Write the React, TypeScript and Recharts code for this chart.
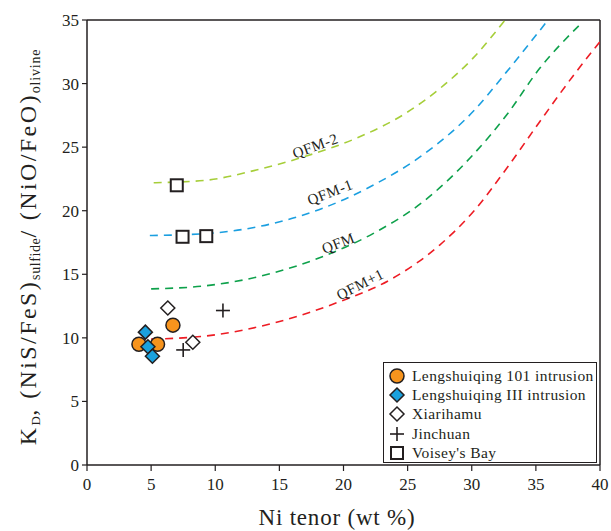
import { ComposedChart, Line, Scatter, XAxis, YAxis, ReferenceLine, ReferenceDot, Legend } from 'recharts';

const FONT = '"Liberation Serif", Tinos, "Times New Roman", Times, serif';
const INK = '#231f20';

// axis ticks
const xTicks = [0, 5, 10, 15, 20, 25, 30, 35, 40];
const yTicks = [0, 5, 10, 15, 20, 25, 30, 35];

// oxygen fugacity curves
const qfmMinus2 = [
  { x: 5.2, y: 22.2 }, { x: 9.3, y: 22.4 }, { x: 13.2, y: 23.2 }, { x: 17.1, y: 24.3 },
  { x: 21.0, y: 25.7 }, { x: 24.9, y: 27.7 }, { x: 27.5, y: 29.6 }, { x: 30.1, y: 32.0 },
  { x: 32.6, y: 35.0 },
];
const qfmMinus1 = [
  { x: 4.9, y: 18.05 }, { x: 9.3, y: 18.2 }, { x: 14.5, y: 19.0 }, { x: 18.4, y: 20.2 },
  { x: 22.3, y: 22.0 }, { x: 26.2, y: 24.4 }, { x: 30.1, y: 27.8 }, { x: 32.7, y: 30.9 },
  { x: 35.95, y: 35.0 },
];
const qfm = [
  { x: 5.0, y: 13.85 }, { x: 9.3, y: 14.1 }, { x: 14.5, y: 15.1 }, { x: 18.4, y: 16.4 },
  { x: 22.3, y: 18.2 }, { x: 26.2, y: 20.7 }, { x: 30.1, y: 24.4 }, { x: 32.7, y: 27.5 },
  { x: 35.3, y: 31.2 }, { x: 38.4, y: 34.6 },
];
const qfmPlus1 = [
  { x: 5.0, y: 9.9 }, { x: 9.3, y: 10.15 }, { x: 14.5, y: 11.15 }, { x: 19.7, y: 12.85 },
  { x: 23.6, y: 14.55 }, { x: 27.5, y: 17.3 }, { x: 30.1, y: 19.9 }, { x: 32.7, y: 23.3 },
  { x: 35.3, y: 27.0 }, { x: 37.9, y: 30.6 }, { x: 40.0, y: 33.3 },
];

// samples
const lengshuiqing101 = [{ x: 4.05, y: 9.5 }, { x: 5.5, y: 9.5 }, { x: 6.7, y: 11.0 }];
const lengshuiqingIII = [{ x: 4.55, y: 10.45 }, { x: 4.75, y: 9.3 }, { x: 5.1, y: 8.55 }];
const xiarihamu = [{ x: 6.3, y: 12.35 }, { x: 8.25, y: 9.65 }];
const jinchuan = [{ x: 10.6, y: 12.15 }, { x: 7.5, y: 9.05 }];
const voiseysBay = [{ x: 7.0, y: 22.0 }, { x: 7.45, y: 17.95 }, { x: 9.3, y: 18.0 }];

// curve labels
const curveLabels = [
  { name: 'QFM-2', x: 17.8, y: 25.1 },
  { name: 'QFM-1', x: 18.95, y: 21.45 },
  { name: 'QFM', x: 19.6, y: 17.45 },
  { name: 'QFM+1', x: 21.3, y: 14.2 },
];
const labelAngle: Record<string, number> = { 'QFM-2': -20, 'QFM-1': -21, QFM: -21, 'QFM+1': -27 };

const legendNames = ['Lengshuiqing 101 intrusion', 'Lengshuiqing III intrusion', 'Xiarihamu', 'Jinchuan', "Voisey's Bay"];

const diamond = (cx: number, cy: number, h: number) =>
  `${cx},${cy - h} ${cx + h},${cy} ${cx},${cy + h} ${cx - h},${cy}`;

function Marker({ kind, cx, cy }: { kind: number; cx: number; cy: number }) {
  if (kind === 0) return <circle cx={cx} cy={cy} r={7} fill="#f7941d" stroke={INK} strokeWidth={1.5} />;
  if (kind === 1) return <polygon points={diamond(cx, cy, 7)} fill="#1ba1dd" stroke={INK} strokeWidth={1.5} />;
  if (kind === 2) return <polygon points={diamond(cx, cy, 7)} fill="#fff" stroke={INK} strokeWidth={1.5} />;
  if (kind === 3)
    return (
      <g stroke={INK} strokeWidth={1.6}>
        <line x1={cx - 7} y1={cy} x2={cx + 7} y2={cy} />
        <line x1={cx} y1={cy - 7} x2={cx} y2={cy + 7} />
      </g>
    );
  return <rect x={cx - 6} y={cy - 6} width={12} height={12} fill="#fff" stroke={INK} strokeWidth={2} />;
}

function LegendBox() {
  return (
    <div
      style={{
        border: `1.5px solid ${INK}`,
        background: '#fff',
        width: 214,
        height: 101,
        boxSizing: 'border-box',
        padding: '3px 0 0 4px',
        fontFamily: FONT,
        fontSize: 15.5,
        letterSpacing: 0.4,
        color: INK,
      }}
    >
      {legendNames.map((name, i) => (
        <div key={name} style={{ display: 'flex', alignItems: 'center', height: 19.4 }}>
          <svg width={20} height={18} style={{ marginRight: 4 }}>
            <Marker kind={i} cx={9} cy={9} />
          </svg>
          <span>{name}</span>
        </div>
      ))}
    </div>
  );
}

function YTitle() {
  return (
    <text
      transform="rotate(-90)"
      x={-247}
      y={36}
      textAnchor="middle"
      fontFamily={FONT}
      fontSize={24}
      letterSpacing={2.4}
      fill={INK}
    >
      K<tspan fontSize={13} letterSpacing={0.5} dy={4}>D</tspan>
      <tspan dy={-4}>, (NiS/FeS)</tspan>
      <tspan fontSize={14} letterSpacing={0.6} dy={4}>sulfide</tspan>
      <tspan dy={-4}>/ (NiO/FeO)</tspan>
      <tspan fontSize={14} letterSpacing={0.8} dy={4}>olivine</tspan>
    </text>
  );
}

function XTitle() {
  return (
    <text x={337} y={525} textAnchor="middle" fontFamily={FONT} fontSize={23} letterSpacing={0.8} fill={INK}>
      Ni tenor (wt %)
    </text>
  );
}

const tickStyle = { fontFamily: FONT, fontSize: 17, fill: INK };
const dash = '8 6';

export default function App() {
  const series = [lengshuiqing101, lengshuiqingIII, xiarihamu, jinchuan, voiseysBay];
  return (
    <div style={{ position: 'absolute', left: 0, top: 0, background: '#fff' }}>
      <ComposedChart width={611} height={531} margin={{ top: 20, right: 11, bottom: 0, left: 0 }}>
        <XAxis
          type="number"
          dataKey="x"
          domain={[0, 40]}
          ticks={xTicks}
          interval={0}
          allowDataOverflow
          height={66}
          tick={tickStyle}
          tickSize={6}
          tickMargin={7}
          axisLine={{ stroke: INK, strokeWidth: 1.5 }}
          tickLine={{ stroke: INK, strokeWidth: 1.2 }}
          label={<XTitle />}
        />
        <YAxis
          type="number"
          dataKey="y"
          domain={[0, 35]}
          ticks={yTicks}
          interval={0}
          allowDataOverflow
          width={87}
          tick={tickStyle}
          tickSize={5}
          tickMargin={3}
          axisLine={{ stroke: INK, strokeWidth: 1.5 }}
          tickLine={{ stroke: INK, strokeWidth: 1.2 }}
          label={<YTitle />}
        />
        <ReferenceLine y={35} stroke={INK} strokeWidth={1.5} />
        <ReferenceLine x={40} stroke={INK} strokeWidth={1.5} />

        <Line data={qfmMinus2} dataKey="y" type="monotone" stroke="#a6ce39" strokeWidth={1.6} strokeDasharray={dash} dot={false} isAnimationActive={false} legendType="none" />
        <Line data={qfmMinus1} dataKey="y" type="monotone" stroke="#1b9fe0" strokeWidth={1.6} strokeDasharray={dash} dot={false} isAnimationActive={false} legendType="none" />
        <Line data={qfm} dataKey="y" type="monotone" stroke="#0ea14b" strokeWidth={1.6} strokeDasharray={dash} dot={false} isAnimationActive={false} legendType="none" />
        <Line data={qfmPlus1} dataKey="y" type="monotone" stroke="#ed1c24" strokeWidth={1.6} strokeDasharray={dash} dot={false} isAnimationActive={false} legendType="none" />

        {curveLabels.map((l) => (
          <ReferenceDot
            key={l.name}
            x={l.x}
            y={l.y}
            r={0}
            shape={(p: any) => (
              <text
                x={p.cx}
                y={p.cy}
                transform={`rotate(${labelAngle[l.name]}, ${p.cx}, ${p.cy})`}
                textAnchor="middle"
                dominantBaseline="central"
                fontFamily={FONT}
                fontSize={15}
                letterSpacing={0.5}
                fill={INK}
              >
                {l.name}
              </text>
            )}
          />
        ))}

        {series.map((d, i) => (
          <Scatter
            key={legendNames[i]}
            name={legendNames[i]}
            data={d}
            isAnimationActive={false}
            shape={(p: any) => <Marker kind={i} cx={p.cx} cy={p.cy} />}
          />
        ))}

        <Legend
          layout="vertical"
          align="center"
          verticalAlign="middle"
          content={() => <LegendBox />}
          wrapperStyle={{ position: 'absolute', left: 383, top: 362, width: 214, height: 101 }}
        />
      </ComposedChart>
    </div>
  );
}
